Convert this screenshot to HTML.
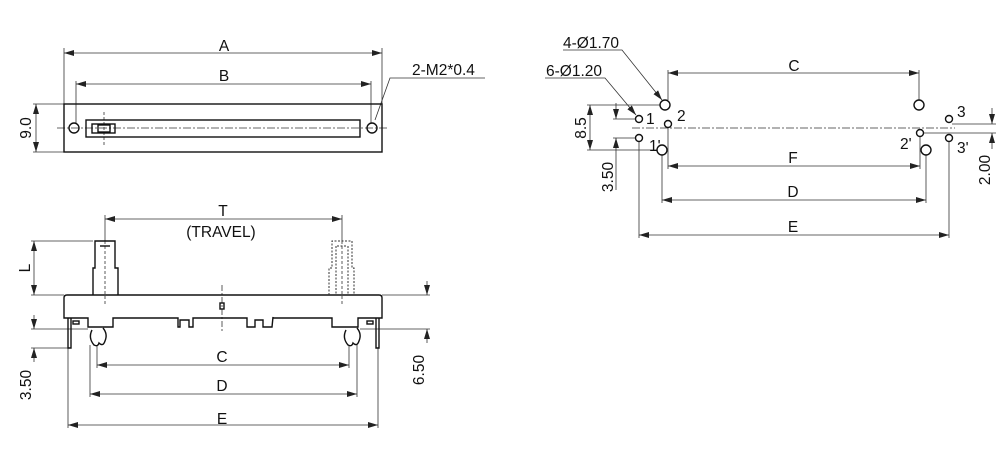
<!DOCTYPE html>
<html><head><meta charset="utf-8"><style>
html,body{margin:0;padding:0;background:#fff;}
svg{display:block;}
text{font-family:"Liberation Sans",sans-serif;font-size:15.5px;fill:#111;}
</style></head><body>
<svg width="1006" height="470" viewBox="0 0 1006 470" xmlns="http://www.w3.org/2000/svg">
<defs>
<marker id="a" viewBox="0 0 10 6" refX="10" refY="3" markerWidth="10" markerHeight="6" orient="auto-start-reverse" markerUnits="userSpaceOnUse"><path d="M0,0 L10,3 L0,6 z" fill="#222"/></marker>
</defs>
<g stroke="#333" stroke-width="0.8" fill="none">
<line x1="64" y1="48" x2="64" y2="104"/><line x1="382" y1="48" x2="382" y2="104"/>
<line x1="64" y1="53" x2="382" y2="53" marker-start="url(#a)" marker-end="url(#a)"/>
<line x1="76" y1="81" x2="76" y2="124"/><line x1="371" y1="81" x2="371" y2="124"/>
<line x1="76" y1="84" x2="371" y2="84" marker-start="url(#a)" marker-end="url(#a)"/>
<line x1="33" y1="104" x2="64" y2="104"/><line x1="33" y1="152" x2="64" y2="152"/>
<line x1="36" y1="104" x2="36" y2="152" marker-start="url(#a)" marker-end="url(#a)"/>
<line x1="57" y1="128" x2="388" y2="128" stroke-dasharray="8,2,2,2"/>
<line x1="104" y1="112" x2="104" y2="146" stroke-dasharray="3,2"/>
<polyline points="375,120 390,78 485,78"/>
</g>
<g stroke="#111" stroke-width="1.4" fill="none">
<rect x="64" y="104" width="318" height="48"/>
<rect x="86" y="120" width="274" height="17"/>
<circle cx="74" cy="128" r="5"/><circle cx="372" cy="128" r="5"/>
<rect x="92" y="124" width="23" height="9"/>
<rect x="98" y="125" width="12" height="7"/>
</g>
<text x="224" y="51" text-anchor="middle">A</text>
<text x="224" y="81" text-anchor="middle">B</text>
<text x="412" y="75">2-M2*0.4</text>
<text transform="translate(31,128) rotate(-90)" text-anchor="middle">9.0</text>

<g stroke="#333" stroke-width="0.8" fill="none">
<line x1="105" y1="215" x2="105" y2="241"/><line x1="342" y1="215" x2="342" y2="241"/>
<line x1="105" y1="219" x2="342" y2="219" marker-start="url(#a)" marker-end="url(#a)"/>
<line x1="105" y1="241" x2="105" y2="305" stroke-dasharray="3,2"/>
<line x1="342" y1="241" x2="342" y2="305" stroke-dasharray="3,2"/>
<line x1="222" y1="285" x2="222" y2="332" stroke-dasharray="6,2,2,2"/>
<line x1="31" y1="241" x2="93" y2="241"/><line x1="31" y1="295" x2="64" y2="295"/>
<line x1="34" y1="241" x2="34" y2="295" marker-start="url(#a)" marker-end="url(#a)"/>
<line x1="31" y1="329" x2="88" y2="329"/><line x1="31" y1="348" x2="68" y2="348"/>
<line x1="34" y1="315" x2="34" y2="329" marker-end="url(#a)"/>
<line x1="34" y1="362" x2="34" y2="348" marker-end="url(#a)"/>
<line x1="382" y1="295" x2="430" y2="295"/><line x1="360" y1="329" x2="430" y2="329"/>
<line x1="427" y1="281" x2="427" y2="295" marker-end="url(#a)"/>
<line x1="427" y1="343" x2="427" y2="329" marker-end="url(#a)"/>
<line x1="97" y1="345" x2="97" y2="368"/><line x1="349" y1="345" x2="349" y2="368"/>
<line x1="97" y1="365" x2="349" y2="365" marker-start="url(#a)" marker-end="url(#a)"/>
<line x1="90" y1="345" x2="90" y2="397"/><line x1="357" y1="345" x2="357" y2="397"/>
<line x1="90" y1="394" x2="357" y2="394" marker-start="url(#a)" marker-end="url(#a)"/>
<line x1="68" y1="348" x2="68" y2="428"/><line x1="378" y1="348" x2="378" y2="428"/>
<line x1="68" y1="425" x2="378" y2="425" marker-start="url(#a)" marker-end="url(#a)"/>
</g>
<g stroke="#111" stroke-width="1.4" fill="none">
<path d="M67,295 H379 Q382,295 382,298 V318 H358 V327 H332 V318 H273 V317 L272,327 H263 V320 H255 V327 H247 V318 H193 V327 H189 V320 H180 V327 H178 V318 H113 V327 H88 V318 H64 V298 Q64,295 67,295 Z"/>
<polyline points="93,295 93,268 95,268 95,241 115,241 115,268 118,268 118,295"/>
<line x1="100" y1="246" x2="110" y2="246"/>
<rect x="220" y="303" width="4" height="6"/>
<path d="M68,318 V348 H71 V318"/>
<path d="M376,318 V348 H379 V318"/>
<path d="M92,330 q-4,8 2,15 q4,2 5,-2 q4,4 6,-2 q3,-7 -2,-13"/>
<path d="M346,330 q-4,8 2,15 q4,2 5,-2 q4,4 6,-2 q3,-7 -2,-13"/>
<rect x="73" y="321" width="6" height="3"/><rect x="367" y="321" width="6" height="3"/>
</g>
<g stroke="#333" stroke-width="1" fill="none" stroke-dasharray="2,1.5">
<polyline points="329,295 329,268 332,268 332,241 352,241 352,268 354,268 354,295"/>
<line x1="337" y1="246" x2="347" y2="246"/>
<line x1="336" y1="246" x2="336" y2="295"/><line x1="348" y1="246" x2="348" y2="295"/>
</g>
<text x="223" y="216" text-anchor="middle">T</text>
<text x="221" y="237" text-anchor="middle">(TRAVEL)</text>
<text transform="translate(30,268) rotate(-90)" text-anchor="middle">L</text>
<text transform="translate(31,385) rotate(-90)" text-anchor="middle">3.50</text>
<text transform="translate(424,370) rotate(-90)" text-anchor="middle">6.50</text>
<text x="222" y="362" text-anchor="middle">C</text>
<text x="222" y="391" text-anchor="middle">D</text>
<text x="222" y="424" text-anchor="middle">E</text>

<g stroke="#333" stroke-width="0.8" fill="none">
<line x1="632" y1="128" x2="955" y2="128" stroke-dasharray="8,2,2,2"/>
<line x1="668" y1="70" x2="668" y2="100"/><line x1="919" y1="70" x2="919" y2="100"/>
<line x1="668" y1="73" x2="919" y2="73" marker-start="url(#a)" marker-end="url(#a)"/>
<polyline points="563,50 622,50 662,100" marker-end="url(#a)"/>
<polyline points="545,78 605,78 636,115" marker-end="url(#a)"/>
<line x1="587" y1="105" x2="660" y2="105"/><line x1="587" y1="150" x2="657" y2="150"/>
<line x1="590" y1="105" x2="590" y2="150" marker-start="url(#a)" marker-end="url(#a)"/>
<line x1="613" y1="119" x2="636" y2="119"/><line x1="613" y1="138" x2="636" y2="138"/>
<line x1="616" y1="103" x2="616" y2="119" marker-end="url(#a)"/>
<line x1="616" y1="190" x2="616" y2="138" marker-end="url(#a)"/>
<line x1="952" y1="124" x2="996" y2="124"/><line x1="924" y1="133" x2="996" y2="133"/>
<line x1="992" y1="108" x2="992" y2="124" marker-end="url(#a)"/>
<line x1="992" y1="149" x2="992" y2="133" marker-end="url(#a)"/>
<line x1="668" y1="128" x2="668" y2="169"/><line x1="920" y1="137" x2="920" y2="169"/>
<line x1="668" y1="166" x2="920" y2="166" marker-start="url(#a)" marker-end="url(#a)"/>
<line x1="662" y1="155" x2="662" y2="203"/><line x1="926" y1="155" x2="926" y2="203"/>
<line x1="662" y1="200" x2="926" y2="200" marker-start="url(#a)" marker-end="url(#a)"/>
<line x1="639" y1="142" x2="639" y2="238"/><line x1="949" y1="142" x2="949" y2="238"/>
<line x1="639" y1="235" x2="949" y2="235" marker-start="url(#a)" marker-end="url(#a)"/>
</g>
<g stroke="#111" stroke-width="1.4" fill="#fff">
<circle cx="665" cy="105" r="5"/><circle cx="919" cy="105" r="5"/>
<circle cx="662" cy="150" r="5"/><circle cx="926" cy="150" r="5"/>
<circle cx="639" cy="119" r="3.5"/><circle cx="639" cy="138" r="3.5"/>
<circle cx="668" cy="124" r="3.5"/><circle cx="920" cy="133" r="3.5"/>
<circle cx="949" cy="119" r="3.5"/><circle cx="949" cy="138" r="3.5"/>
</g>
<text x="563" y="48">4-Ø1.70</text>
<text x="546" y="76">6-Ø1.20</text>
<text x="794" y="71" text-anchor="middle">C</text>
<text x="646" y="124">1</text><text x="677" y="121">2</text><text x="957" y="117">3</text>
<text x="649" y="151">1'</text><text x="900" y="149">2'</text><text x="957" y="153">3'</text>
<text transform="translate(586,128) rotate(-90)" text-anchor="middle">8.5</text>
<text transform="translate(613,177) rotate(-90)" text-anchor="middle">3.50</text>
<text transform="translate(990,170) rotate(-90)" text-anchor="middle">2.00</text>
<text x="793" y="163" text-anchor="middle">F</text>
<text x="793" y="197" text-anchor="middle">D</text>
<text x="793" y="232" text-anchor="middle">E</text>
</svg>
</body></html>
